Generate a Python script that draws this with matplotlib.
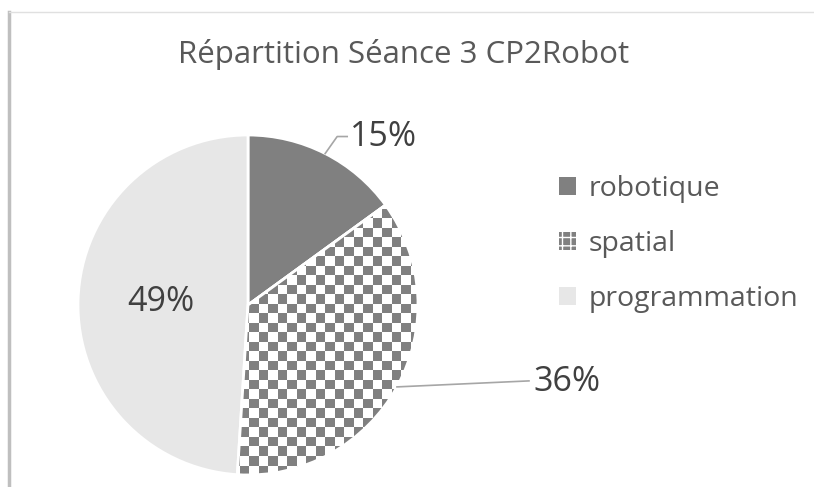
import numpy as np
import matplotlib
matplotlib.use("Agg")
import matplotlib.pyplot as plt
from matplotlib.patches import Patch, Wedge
from matplotlib.lines import Line2D
from matplotlib.colors import ListedColormap

plt.rcParams['font.family'] = ['Open Sans', 'DejaVu Sans']

title = "Répartition Séance 3 CP2Robot"
categories = ["robotique", "spatial", "programmation"]
values = [15, 36, 49]
pct_labels = ["15%", "36%", "49%"]
colors = ["#808080", "#ffffff", "#e7e7e7"]
checker_color = "#808080"
text_color = "#595959"

W, H = 814, 487
fig = plt.figure(figsize=(W / 100, H / 100), dpi=100)
ax = fig.add_axes([0, 0, 1, 1])

cx, cy, r = 248, H - 305, 170
wedges, _ = ax.pie(values, colors=colors, startangle=90, counterclock=False,
                   center=(cx, cy), radius=r, frame=True,
                   wedgeprops=dict(edgecolor='white', linewidth=2))
ax.set_xlim(0, W)
ax.set_ylim(0, H)
ax.set_aspect('equal')
ax.axis('off')

# checkerboard fill for "spatial"
cell = 9.5
n = int(2 * r / cell) + 2
yy, xx = np.mgrid[0:n, 0:n]
board = ((xx + yy) % 2).astype(float)
cmap = ListedColormap(["#ffffff", checker_color])
w1 = wedges[1]
for w in wedges:
    w.set_zorder(1)
im = ax.imshow(board, cmap=cmap, extent=(cx - r, cx - r + n * cell, cy - r, cy - r + n * cell),
               interpolation='nearest', origin='lower', zorder=1.5)
im.set_clip_path(w1)
ax.add_patch(Wedge(w1.center, w1.r, w1.theta1, w1.theta2, facecolor='none',
                   edgecolor='white', linewidth=2, zorder=2))
ax.set_xlim(0, W)
ax.set_ylim(0, H)

def pt(angle_deg, rad):
    a = np.deg2rad(angle_deg)
    return cx + rad * np.cos(a), cy + rad * np.sin(a)

lead = '#a6a6a6'
lab_color = '#404040'
# 15%
w0 = wedges[0]
x0, y0 = pt((w0.theta1 + w0.theta2) / 2, r)
ax.plot([x0, x0 + 12, x0 + 22], [y0, y0 + 17, y0 + 17], color=lead, lw=1.2, zorder=3)
ax.text(x0 + 25, y0 + 17, pct_labels[0], fontsize=24.5, color=lab_color, va='center', ha='left')

# 36%
x1, y1 = pt((w1.theta1 + w1.theta2) / 2, r)
ax.plot([x1, x1 + 132], [y1, y1 + 6], color=lead, lw=1.2, zorder=3)
ax.text(x1 + 136, y1 + 5, pct_labels[1], fontsize=24.5, color=lab_color, va='center', ha='left')

# 49%
w2 = wedges[2]
x2, y2 = pt((w2.theta1 + w2.theta2) / 2, r * 0.51)
ax.text(x2, y2, pct_labels[2], fontsize=24.5, color=lab_color, va='center', ha='center')

ax.text(404, H - 55, title, fontsize=22.5, color=text_color, ha='center', va='center')

handles = [Patch(facecolor=colors[0], edgecolor='none'),
           Patch(facecolor=checker_color, edgecolor='white', hatch='++', linewidth=0),
           Patch(facecolor=colors[2], edgecolor='none')]
leg = ax.legend(handles, categories, loc='center left', bbox_to_anchor=(533 / W, 1 - 244 / H),
                frameon=False, fontsize=20.5, labelcolor=text_color,
                handlelength=0.6, handleheight=0.6, handletextpad=0.45, labelspacing=0.95)

# frame
fig.add_artist(Line2D([9 / W, 9 / W], [0, 1 - 12 / H], color='#bfbfbf', lw=2.5))
fig.add_artist(Line2D([9 / W, 1], [1 - 12 / H, 1 - 12 / H], color='#e0e0e0', lw=1))

fig.savefig("out.png", dpi=100)
